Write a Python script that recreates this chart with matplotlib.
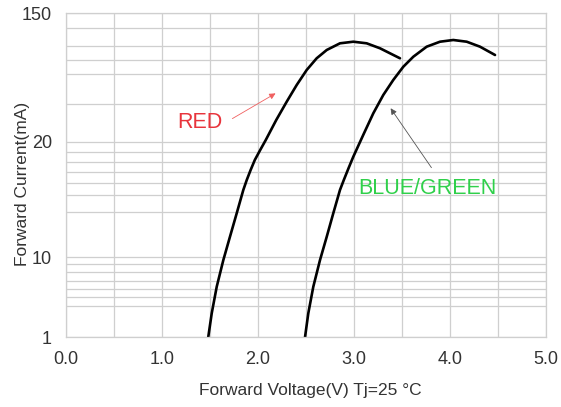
import numpy as np
import matplotlib
matplotlib.use('Agg')
import matplotlib.pyplot as plt

plt.rcParams['font.family'] = ['Liberation Sans', 'DejaVu Sans']

# Forward current (mA) vs forward voltage (V)
red_v = [1.482, 1.518, 1.570, 1.639, 1.708, 1.778, 1.847, 1.883, 1.923, 1.967,
         2.023, 2.081, 2.190, 2.299, 2.403, 2.507, 2.611, 2.716, 2.854, 2.993,
         3.132, 3.271, 3.375, 3.479]
red_i = [1.0, 1.98, 4.25, 9.17, 11.3, 13.01, 14.98, 15.91, 16.89, 17.95,
         19.06, 20.64, 28.2, 37.53, 48.71, 61.58, 73.93, 84.18, 93.43, 95.8,
         93.43, 86.44, 79.93, 73.93]

bg_v = [2.490, 2.524, 2.576, 2.646, 2.716, 2.784, 2.854, 2.894, 2.944, 2.993,
        3.097, 3.201, 3.305, 3.409, 3.514, 3.618, 3.757, 3.896, 4.034, 4.174,
        4.3125, 4.469]
bg_i = [1.0, 1.98, 4.25, 9.17, 11.3, 13.01, 14.98, 15.91, 17.1, 18.31,
        22.39, 31.31, 41.68, 52.69, 64.84, 75.78, 88.63, 95.8, 98.39, 95.8,
        88.63, 77.84]

# the graph's odd y axis: three log-ish segments of different heights
y_labels = [1, 10, 20, 150]
y_seg_heights = [0, 80, 195, 324]
y_grid = [2.44, 3.16, 3.98, 5.01, 6.49, 8.18,
          13.1, 14.5, 15.6, 16.7, 17.7, 18.8,
          36.2, 57.9, 72.0, 89.6, 118.7]

x_labels = [0.0, 1.0, 2.0, 3.0, 4.0, 5.0]
x_grid = [0.5, 1.5, 2.5, 3.5, 4.5]

log_anchor = np.log10(y_labels)


def fwd(v):
    v = np.clip(np.asarray(v, dtype=float), 1e-9, None)
    return np.interp(np.log10(v), log_anchor, y_seg_heights)


def inv(p):
    return 10 ** np.interp(np.asarray(p, dtype=float), y_seg_heights, log_anchor)


fig = plt.figure(figsize=(5.61, 4.07), dpi=100)
ax = fig.add_axes([66 / 561, 70 / 407, 480 / 561, 324 / 407])
ax.set_yscale('function', functions=(fwd, inv))

for v, i in [(red_v, red_i), (bg_v, bg_i)]:
    ax.plot(v, i, color='black', lw=1.9, solid_capstyle='round',
            solid_joinstyle='round')

ax.set_xlim(0, 5)
ax.set_ylim(1, 150)
ax.set_xticks(x_labels)
ax.set_xticklabels([f'{x:.1f}' for x in x_labels])
ax.set_xticks(x_grid, minor=True)
ax.set_yticks(y_labels)
ax.set_yticklabels([str(y) for y in y_labels])
ax.set_yticks(y_grid, minor=True)
ax.yaxis.set_minor_formatter(plt.NullFormatter())

ax.grid(True, which='both', color='#cfcfcf', lw=0.9)
ax.set_axisbelow(True)
for s in ax.spines.values():
    s.set_color('#cfcfcf')
    s.set_linewidth(0.9)
ax.tick_params(which='both', length=0, labelsize=13, colors='#333333', pad=10)

ax.set_xlabel('Forward Voltage(V) Tj=25 °C', fontsize=12.5, color='#333333')
ax.set_ylabel('Forward Current(mA)', fontsize=12.5, color='#333333')
ax.xaxis.set_label_coords(0.51, -0.142)
ax.yaxis.set_label_coords(-0.075, 0.472)

ax.annotate('', xy=(2.208, 43.7), xytext=(1.708, 28.2),
            arrowprops=dict(arrowstyle='-|>', color='#f06060', lw=0.6,
                            mutation_scale=9))
ax.text(1.396, 27.3, 'RED', color='#e8343c', fontsize=15.5, ha='center', va='center')

ax.annotate('', xy=(3.365, 35.1), xytext=(3.823, 16.9),
            arrowprops=dict(arrowstyle='-|>', color='#555555', lw=0.6,
                            mutation_scale=9))
ax.text(3.76, 15.15, 'BLUE/GREEN', color='#2fd04a', fontsize=15.5, ha='center', va='center')

fig.savefig('out.png', dpi=100)
